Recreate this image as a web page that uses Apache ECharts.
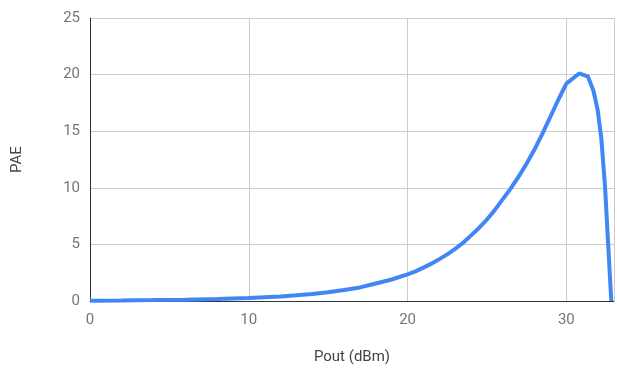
<!DOCTYPE html>
<html>
<head>
<meta charset="utf-8">
<script src="https://cdn.jsdelivr.net/npm/echarts@6/dist/echarts.min.js"></script>
<style>
html,body{margin:0;padding:0;background:#fff;}
#chart{width:617px;height:372px;}
</style>
</head>
<body>
<div id="chart"></div>
<script>
// Pout (dBm)
const pout = [0, 2, 4, 6, 8, 10, 12, 13, 14, 15, 16, 17, 18, 19, 20, 20.5, 21, 21.5, 22, 22.5, 23, 23.5, 24, 24.5, 25, 25.5, 26, 26.5, 27, 27.5, 28, 28.5, 29, 29.5, 30, 30.8, 31.35, 31.7, 31.97, 32.2, 32.44, 32.64, 32.83];
// PAE (%)
const pae = [0.03, 0.05, 0.08, 0.12, 0.18, 0.27, 0.40, 0.50, 0.62, 0.78, 0.97, 1.2, 1.55, 1.9, 2.35, 2.62, 2.95, 3.3, 3.7, 4.12, 4.6, 5.15, 5.8, 6.45, 7.2, 8.05, 9.0, 9.95, 11.0, 12.15, 13.4, 14.8, 16.3, 17.8, 19.2, 20.1, 19.85, 18.6, 16.9, 14.4, 10.0, 4.8, 0];
const xTicks = [0, 10, 20, 30];
const yTicks = [0, 5, 10, 15, 20, 25];

const chart = echarts.init(document.getElementById('chart'), null, {renderer: 'canvas'});
const font = 'Roboto, Arial, sans-serif';
chart.setOption({
  animation: false,
  backgroundColor: '#ffffff',
  grid: {left: 90, top: 18, width: 526, height: 283, containLabel: false},
  xAxis: {
    type: 'value', min: 0, max: 33, interval: 10,
    name: 'Pout (dBm)', nameLocation: 'middle', nameGap: 49,
    nameTextStyle: {color: '#444444', fontSize: 15, fontFamily: font},
    axisLine: {show: true, onZero: false, lineStyle: {color: '#333333', width: 1}},
    axisTick: {show: false},
    axisLabel: {color: '#757575', fontSize: 15, fontFamily: font, margin: 12,
      formatter: v => xTicks.includes(v) ? String(v) : ''},
    splitLine: {show: true, lineStyle: {color: '#cccccc', width: 1}}
  },
  yAxis: {
    type: 'value', min: 0, max: 25, interval: 5,
    name: 'PAE', nameLocation: 'middle', nameGap: 65,
    nameTextStyle: {color: '#444444', fontSize: 15, fontFamily: font},
    axisLine: {show: true, lineStyle: {color: '#333333', width: 1}},
    axisTick: {show: false},
    axisLabel: {color: '#757575', fontSize: 15, fontFamily: font, margin: 10,
      formatter: v => yTicks.includes(v) ? String(v) : ''},
    splitLine: {show: true, lineStyle: {color: '#cccccc', width: 1}}
  },
  series: [{
    type: 'line',
    data: pout.map((x, i) => [x, pae[i]]),
    showSymbol: false,
    smooth: false,
    lineStyle: {color: '#4285f4', width: 4},
    itemStyle: {color: '#4285f4'},
    z: 3
  }]
});
</script>
</body>
</html>
